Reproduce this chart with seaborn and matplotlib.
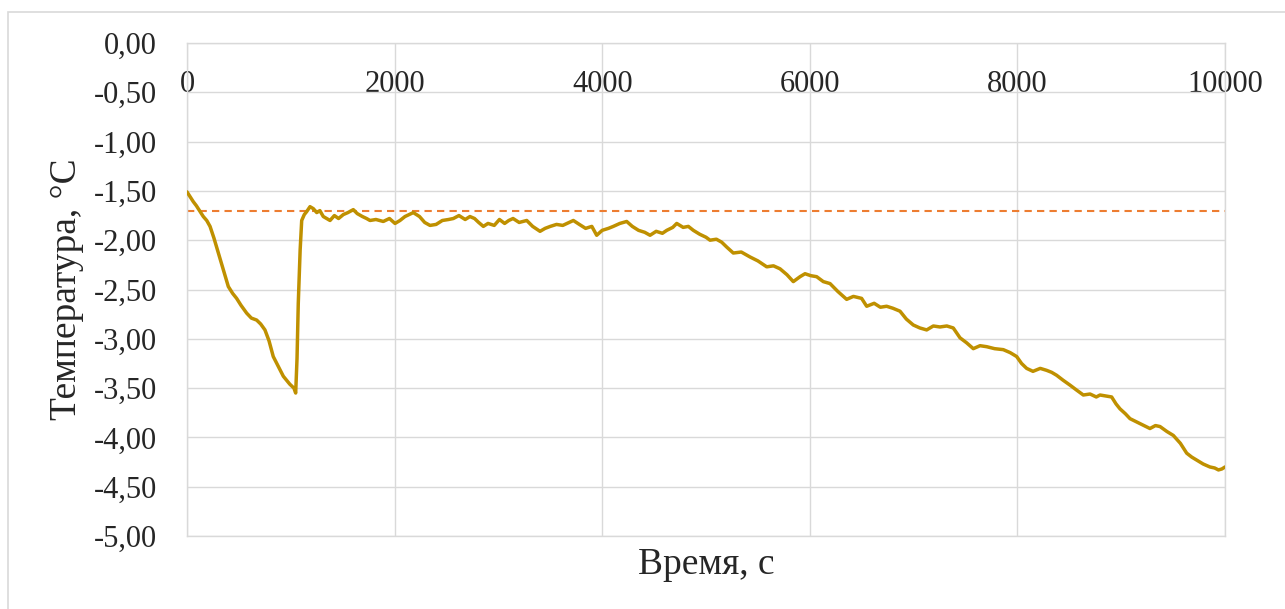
import numpy as np
import pandas as pd
import seaborn as sns
from matplotlib import pyplot as plt
from matplotlib.patches import Rectangle
from matplotlib.ticker import FuncFormatter

# время, с
time_s = [0, 30, 61, 90, 120, 157, 190, 222, 260, 302,
          350, 398, 440, 478, 520, 575, 620, 671, 710, 751,
          790, 831, 880, 928, 990, 1030, 1047, 1060, 1072, 1090,
          1105, 1130, 1153, 1185, 1217, 1250, 1280, 1313, 1345, 1378,
          1420, 1460, 1506, 1550, 1602, 1640, 1690, 1730, 1763, 1820,
          1891, 1950, 2004, 2052, 2100, 2180, 2240, 2290, 2341, 2400,
          2460, 2520, 2566, 2620, 2680, 2726, 2770, 2810, 2855, 2900,
          2960, 3010, 3060, 3100, 3141, 3200, 3273, 3330, 3401, 3450,
          3500, 3560, 3620, 3680, 3722, 3780, 3840, 3900, 3947, 4000,
          4060, 4107, 4170, 4236, 4290, 4350, 4410, 4461, 4520, 4580,
          4622, 4680, 4718, 4780, 4830, 4878, 4940, 5000, 5039, 5100,
          5151, 5200, 5263, 5340, 5424, 5500, 5585, 5650, 5713, 5780,
          5841, 5906, 5954, 6010, 6066, 6130, 6195, 6270, 6355, 6420,
          6499, 6548, 6620, 6680, 6740, 6800, 6869, 6930, 6997, 7060,
          7126, 7190, 7254, 7320, 7382, 7447, 7510, 7575, 7640, 7704,
          7780, 7864, 7930, 7993, 8040, 8089, 8150, 8220, 8282, 8330,
          8378, 8440, 8507, 8570, 8635, 8700, 8760, 8796, 8850, 8908,
          8950, 8988, 9040, 9085, 9180, 9277, 9330, 9374, 9440, 9502,
          9570, 9631, 9680, 9727, 9790, 9855, 9900, 9937, 9970, 10000]

# температура, °C
temp_c = [-1.51, -1.56, -1.61, -1.65, -1.70, -1.76, -1.80, -1.86, -1.98, -2.13,
          -2.30, -2.47, -2.54, -2.59, -2.66, -2.74, -2.79, -2.81, -2.85, -2.91,
          -3.02, -3.18, -3.28, -3.38, -3.46, -3.50, -3.55, -3.20, -2.64, -2.10,
          -1.80, -1.74, -1.71, -1.66, -1.68, -1.72, -1.70, -1.76, -1.78, -1.80,
          -1.75, -1.78, -1.74, -1.72, -1.69, -1.73, -1.76, -1.78, -1.80, -1.79,
          -1.81, -1.78, -1.83, -1.80, -1.76, -1.72, -1.76, -1.82, -1.85, -1.84,
          -1.80, -1.79, -1.78, -1.75, -1.79, -1.76, -1.78, -1.82, -1.86, -1.83,
          -1.85, -1.79, -1.83, -1.80, -1.78, -1.82, -1.80, -1.86, -1.91, -1.88,
          -1.86, -1.84, -1.85, -1.82, -1.80, -1.84, -1.88, -1.86, -1.95, -1.90,
          -1.88, -1.86, -1.83, -1.81, -1.86, -1.90, -1.92, -1.95, -1.91, -1.93,
          -1.90, -1.87, -1.83, -1.87, -1.86, -1.90, -1.94, -1.97, -2.00, -1.99,
          -2.02, -2.07, -2.13, -2.12, -2.17, -2.21, -2.27, -2.26, -2.29, -2.35,
          -2.42, -2.37, -2.34, -2.36, -2.37, -2.42, -2.44, -2.52, -2.60, -2.57,
          -2.59, -2.67, -2.64, -2.68, -2.67, -2.69, -2.72, -2.80, -2.86, -2.89,
          -2.91, -2.87, -2.88, -2.87, -2.89, -2.99, -3.04, -3.10, -3.07, -3.08,
          -3.10, -3.11, -3.14, -3.18, -3.25, -3.30, -3.33, -3.30, -3.32, -3.34,
          -3.37, -3.42, -3.47, -3.52, -3.57, -3.56, -3.59, -3.57, -3.58, -3.59,
          -3.66, -3.71, -3.76, -3.81, -3.86, -3.91, -3.88, -3.89, -3.94, -3.98,
          -4.06, -4.16, -4.20, -4.23, -4.27, -4.30, -4.31, -4.33, -4.32, -4.30]

threshold_c = -1.70

df = pd.DataFrame({'t': time_s, 'T': temp_c})

sns.set_style('white')
plt.rcParams['font.family'] = ['Liberation Serif', 'DejaVu Serif']

fig = plt.figure(figsize=(12.85, 6.09), dpi=100)
ax = fig.add_axes([187 / 1285, 1 - 536 / 609, 1038 / 1285, 493 / 609])

# рамка диаграммы
fig.patches.append(Rectangle((8 / 1285, -0.1), 1.2, 1 - 12 / 609 + 0.1,
                             transform=fig.transFigure, fill=False,
                             edgecolor='#D9D9D9', linewidth=1.2))

ax.axhline(threshold_c, color='#ED7D31', linestyle=(0, (3.5, 2.5)), linewidth=1.5, zorder=2)
sns.lineplot(data=df, x='t', y='T', color='#BF9000', linewidth=2.5, ax=ax, zorder=3)

ax.set_xlim(0, 10000)
ax.set_ylim(-5, 0)
ax.set_xticks(np.arange(0, 10001, 2000))
ax.set_yticks(np.arange(-5, 0.01, 0.5))
ax.yaxis.set_major_formatter(FuncFormatter(lambda v, p: ('%.2f' % v).replace('.', ',')))
ax.grid(True, color='#D9D9D9', linewidth=1)
for s in ax.spines.values():
    s.set_color('#D9D9D9')
    s.set_linewidth(1)

ax.tick_params(axis='x', bottom=False, labelbottom=False, top=False, labeltop=True,
               pad=-44, labelsize=22)
ax.tick_params(axis='y', left=False, pad=18, labelsize=22)

ax.set_xlabel('Время, с', fontsize=27, labelpad=8)
ax.set_ylabel('Температура, °С', fontsize=27, labelpad=7)

plt.savefig('out.png', dpi=100)
